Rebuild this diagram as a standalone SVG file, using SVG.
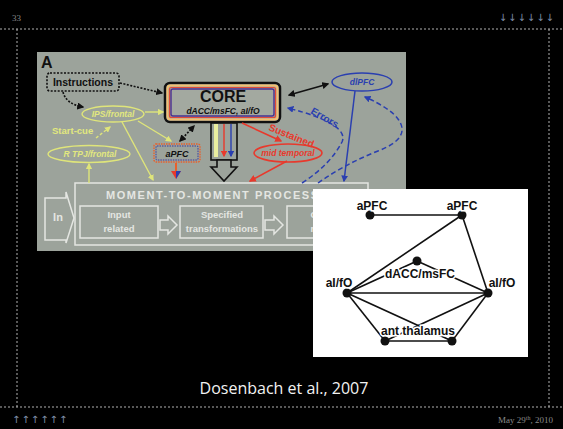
<svg xmlns="http://www.w3.org/2000/svg" width="563" height="429" viewBox="0 0 563 429">
<defs>
<style>
.slide{font-family:"Liberation Serif",serif;fill:#8a8a8a}
.arw{font-family:"DejaVu Sans",sans-serif;fill:#7f8ea8}
.frame{stroke:#b0b0b0;stroke-width:1;stroke-dasharray:2 2;fill:none}
.fig{font-family:"Liberation Sans",Arial,sans-serif;font-weight:bold}
.it{font-style:italic}
.yel{stroke:#dfe57a;fill:none;stroke-width:1.4}
.ytxt{fill:#e2e87e}
.red{stroke:#e8392c;fill:none;stroke-width:1.6}
.blu{stroke:#2a3fb0;fill:none;stroke-width:1.5}
.dot{stroke:#111;fill:none;stroke-width:1.6;stroke-dasharray:2 1.5}
.wbox{stroke:#e4e6e2;fill:none;stroke-width:1.5}
.wtxt{fill:#e4e6e2;text-anchor:middle}
.edge{stroke:#111;stroke-width:1.6;fill:none}
.node{fill:#111}
.gl{font-family:"Liberation Sans",Arial,sans-serif;font-weight:bold;font-size:12px;fill:#111;stroke:#fff;stroke-width:3;paint-order:stroke;text-anchor:middle}
</style>
<marker id="ay" viewBox="0 0 10 10" refX="8" refY="5" markerWidth="4.5" markerHeight="4.5" orient="auto-start-reverse"><path d="M0,0L10,5L0,10z" fill="#dfe57a"/></marker>
<marker id="ak" viewBox="0 0 10 10" refX="8" refY="5" markerWidth="4.5" markerHeight="4.5" orient="auto-start-reverse"><path d="M0,0L10,5L0,10z" fill="#111"/></marker>
<marker id="ar" viewBox="0 0 10 10" refX="8" refY="5" markerWidth="4.5" markerHeight="4.5" orient="auto-start-reverse"><path d="M0,0L10,5L0,10z" fill="#e8392c"/></marker>
<marker id="ab" viewBox="0 0 10 10" refX="8" refY="5" markerWidth="4.5" markerHeight="4.5" orient="auto-start-reverse"><path d="M0,0L10,5L0,10z" fill="#2a3fb0"/></marker>
</defs>

<rect x="0" y="0" width="563" height="429" fill="#000"/>

<g id="slide-frame">
<line class="frame" x1="0" y1="29" x2="563" y2="29"/>
<line class="frame" x1="0" y1="407" x2="563" y2="407"/>
<line class="frame" x1="17" y1="29" x2="17" y2="407"/>
<line class="frame" x1="549" y1="29" x2="549" y2="407"/>
<text class="slide" x="12" y="21" font-size="9">33</text>
<text class="arw" x="555" y="21" font-size="10" text-anchor="end" letter-spacing="1">↓↓↓↓↓↓</text>
<text class="arw" x="12" y="423" font-size="10" letter-spacing="1">↑↑↑↑↑↑</text>
<text class="slide" x="553" y="423" font-size="9" text-anchor="end">May 29<tspan font-size="6" dy="-3">th</tspan><tspan dy="3">, 2010</tspan></text>
<text x="284" y="394" font-family="'Open Sans',sans-serif" font-size="16" fill="#f2f2f2" text-anchor="middle">Dosenbach et al., 2007</text>
</g>

<g id="figure-A">
<rect x="37" y="52" width="369" height="199" fill="#9ca39b"/>
<text class="fig" x="41" y="68" font-size="16" fill="#111">A</text>

<g id="instructions">
<rect x="47" y="73" width="72" height="18" rx="3" class="dot"/>
<text class="fig" x="83" y="86" font-size="10.5" fill="#111" text-anchor="middle">Instructions</text>
</g>
<g id="ips-frontal">
<ellipse cx="113" cy="114" rx="31" ry="8" class="yel"/>
<text class="fig it ytxt" x="113" y="117" font-size="8.5" text-anchor="middle">IPS/frontal</text>
</g>
<g id="start-cue">
<text class="fig ytxt" x="52" y="134" font-size="9.5">Start-cue</text>
</g>
<g id="r-tpj">
<ellipse cx="89" cy="154" rx="41" ry="8.5" class="yel"/>
<text class="fig it ytxt" x="90" y="157" font-size="8.5" text-anchor="middle">R TPJ/frontal</text>
</g>
<g id="apfc-box">
<rect x="154" y="144" width="46" height="18" rx="2" fill="none" stroke="#e8602c" stroke-width="1.4" stroke-dasharray="1.5 1"/>
<rect x="156" y="146" width="42" height="14" rx="1" fill="none" stroke="#3a3aa0" stroke-width="1" stroke-dasharray="1.5 1"/>
<text class="fig it" x="177" y="157" font-size="9" fill="#111" text-anchor="middle">aPFC</text>
</g>
<g id="core">
<rect x="165" y="83" width="115" height="39" rx="5" fill="#a3a9a0" stroke="#111" stroke-width="2.5"/>
<rect x="167.5" y="85.5" width="110" height="34" rx="3" fill="none" stroke="#f4c070" stroke-width="2"/>
<rect x="169.5" y="87.5" width="106" height="30" rx="2" fill="none" stroke="#e04a3a" stroke-width="1.2"/>
<rect x="171" y="89" width="103" height="27" rx="2" fill="none" stroke="#4a3090" stroke-width="1.4"/>
<text class="fig" x="223" y="102" font-size="16" fill="#111" text-anchor="middle">CORE</text>
<text class="fig it" x="223" y="114" font-size="8.5" fill="#111" text-anchor="middle">dACC/msFC, aI/fO</text>
</g>
<g id="dlpfc">
<ellipse cx="362" cy="82" rx="30" ry="9" class="blu"/>
<text class="fig it" x="362" y="85" font-size="8.5" fill="#2a3fb0" text-anchor="middle">dlPFC</text>
</g>
<g id="mid-temporal">
<ellipse cx="288" cy="153" rx="34" ry="9" class="red"/>
<text class="fig it" x="288" y="156" font-size="8.5" fill="#e8392c" text-anchor="middle">mid temporal</text>
</g>
<g id="core-output">
<rect x="211" y="123" width="26" height="37" fill="#9ca39b" stroke="#111" stroke-width="1.6"/>
<line x1="216" y1="124" x2="216" y2="157" stroke="#eaeea0" stroke-width="4"/>
<line x1="224" y1="124" x2="224" y2="156" stroke="#e8392c" stroke-width="1.4" marker-end="url(#ar)"/>
<line x1="231" y1="124" x2="231" y2="156" stroke="#2a3fb0" stroke-width="1.4" marker-end="url(#ab)"/>
<polygon points="217,160 231,160 231,167 237,167 224,181 211,167 217,167" fill="#9ca39b" stroke="#111" stroke-width="1.6"/>
</g>

<g id="moment">
<rect x="75" y="183" width="293" height="62" class="wbox"/>
<text class="fig wtxt" x="106" y="199" font-size="11" textLength="212" lengthAdjust="spacing" style="text-anchor:start">MOMENT-TO-MOMENT PROCESS</text>
<polygon points="45,198 66,198 66,192 74,218 66,243 66,240 45,240" class="wbox"/>
<text class="fig wtxt" x="58" y="221" font-size="11">In</text>
<rect x="80" y="206" width="78" height="32" class="wbox"/>
<text class="fig wtxt" x="119" y="218" font-size="9.5">Input</text>
<text class="fig wtxt" x="119" y="232" font-size="9.5">related</text>
<polygon points="160,220 168,220 168,216 177,225 168,234 168,230 160,230" class="wbox"/>
<rect x="180" y="206" width="83" height="32" class="wbox"/>
<text class="fig wtxt" x="222" y="218" font-size="9.5">Specified</text>
<text class="fig wtxt" x="222" y="232" font-size="9.5">transformations</text>
<polygon points="265,220 274,220 274,216 283,225 274,234 274,230 265,230" class="wbox"/>
<rect x="287" y="206" width="78" height="32" class="wbox"/>
<text class="fig wtxt" x="326" y="218" font-size="9.5">Output</text>
<text class="fig wtxt" x="326" y="232" font-size="9.5">related</text>
</g>

<g id="fig-connectors">
<path d="M120,83 L162,93" class="dot" marker-end="url(#ak)"/>
<path d="M63,92 Q66,104 83,107" class="dot" marker-end="url(#ak)"/>
<path d="M145,112 L163,112" class="yel" marker-end="url(#ay)"/>
<path d="M138,121 L171,141" class="yel" marker-end="url(#ay)"/>
<path d="M122,122 L153,180" class="yel" marker-end="url(#ay)"/>
<path d="M96,138 L110,127" class="yel" stroke-dasharray="3 2" marker-end="url(#ay)"/>
<path d="M89,183 L89,164" class="yel" marker-end="url(#ay)"/>
<path d="M180,141 L194,126" class="dot" marker-start="url(#ak)" marker-end="url(#ak)"/>
<path d="M289,95 L328,84" class="edge" stroke-width="1.4" marker-start="url(#ak)" marker-end="url(#ak)"/>
<path d="M355,91 L344,181" class="blu" marker-end="url(#ab)"/>
<path d="M302,183 Q330,165 342,142 Q350,124 288,108" class="blu" stroke-width="2" stroke-dasharray="5 3" marker-end="url(#ab)"/>
<path d="M318,183 Q345,164 378,151 Q412,138 398,119 Q390,108 365,97" class="blu" stroke-width="2" stroke-dasharray="5 3" marker-end="url(#ab)"/>
<text class="fig" font-size="10" fill="#2a3fb0" transform="translate(310,113) rotate(30)">Errors</text>
<path d="M242,123 L281,141" class="red" marker-end="url(#ar)"/>
<text class="fig" font-size="10" fill="#e8392c" transform="translate(268,130) rotate(22)">Sustained</text>
<path d="M287,161 L250,181" class="red" marker-end="url(#ar)"/>
<line x1="176" y1="163" x2="176" y2="172" stroke="#e8602c" stroke-width="2"/>
<polygon points="171,171 181,171 176,179" fill="#e8392c"/>
<polygon points="176,171 181,171 176,179" fill="#2a3fb0"/>
</g>
</g>

<rect x="313" y="189" width="215" height="168" fill="#ffffff"/>

<g id="graph-edges">
<line class="edge" x1="370" y1="215" x2="462" y2="215"/>
<line class="edge" x1="462" y1="215" x2="347" y2="293"/>
<line class="edge" x1="462" y1="215" x2="488" y2="293"/>
<line class="edge" x1="347" y1="293" x2="488" y2="293"/>
<line class="edge" x1="347" y1="293" x2="417" y2="261"/>
<line class="edge" x1="488" y1="293" x2="417" y2="261"/>
<line class="edge" x1="347" y1="293" x2="385" y2="341"/>
<line class="edge" x1="347" y1="293" x2="452" y2="341"/>
<line class="edge" x1="488" y1="293" x2="452" y2="341"/>
<line class="edge" x1="488" y1="293" x2="385" y2="341"/>
<line class="edge" x1="385" y1="341" x2="452" y2="341"/>
</g>
<g id="apfc-left"><circle class="node" cx="370" cy="215" r="4.5"/><text class="gl" x="372" y="210">aPFC</text></g>
<g id="apfc-right"><circle class="node" cx="462" cy="215" r="4.5"/><text class="gl" x="462" y="210">aPFC</text></g>
<g id="dacc"><circle class="node" cx="417" cy="261" r="4.5"/><text class="gl" x="420" y="278">dACC/msFC</text></g>
<g id="aifo-left"><circle class="node" cx="347" cy="293" r="4.5"/><text class="gl" x="339" y="287">aI/fO</text></g>
<g id="aifo-right"><circle class="node" cx="488" cy="293" r="4.5"/><text class="gl" x="502" y="287">aI/fO</text></g>
<g id="thal-left"><circle class="node" cx="385" cy="341" r="4.5"/></g>
<g id="thal-right"><circle class="node" cx="452" cy="341" r="4.5"/></g>
<text class="gl" x="418" y="335">ant thalamus</text>
</svg>
